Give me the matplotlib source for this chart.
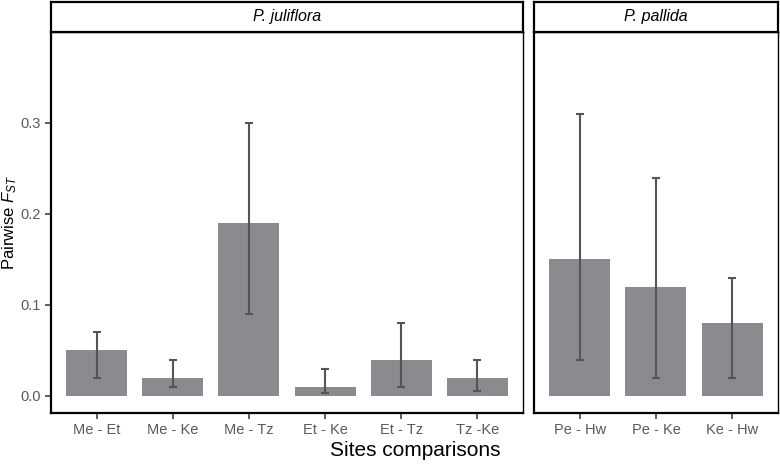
import numpy as np
import matplotlib
matplotlib.use("Agg")
import matplotlib.pyplot as plt

plt.rcParams['font.family'] = ['Liberation Sans', 'DejaVu Sans']
plt.rcParams['mathtext.fontset'] = 'custom'
plt.rcParams['mathtext.rm'] = 'Liberation Sans'
plt.rcParams['mathtext.it'] = 'Liberation Sans:italic'

# P. juliflora
jul_labels = ['Me - Et', 'Me - Ke', 'Me - Tz', 'Et - Ke', 'Et - Tz', 'Tz -Ke']
jul_fst = [0.05, 0.02, 0.19, 0.01, 0.04, 0.02]
jul_low = [0.02, 0.01, 0.09, 0.003, 0.01, 0.005]
jul_high = [0.07, 0.04, 0.30, 0.03, 0.08, 0.04]

# P. pallida
pal_labels = ['Pe - Hw', 'Pe - Ke', 'Ke - Hw']
pal_fst = [0.15, 0.12, 0.08]
pal_low = [0.04, 0.02, 0.02]
pal_high = [0.31, 0.24, 0.13]

bar_col = '#8a8b8f'
err_col = '#555555'
tick_col = '#5a5a5a'

fig = plt.figure(figsize=(7.8, 4.65), dpi=100)
bottom, top = 0.1118, 0.9312
strip_top = 0.9957
panels = [
    (0.0654, 0.6705, 'P. juliflora', jul_labels, jul_fst, jul_low, jul_high),
    (0.6846, 0.9974, 'P. pallida', pal_labels, pal_fst, pal_low, pal_high),
]

for i, (x0, x1, title, labels, vals, low, high) in enumerate(panels):
    ax = fig.add_axes([x0, bottom, x1 - x0, top - bottom])
    x = np.arange(len(labels))
    vals = np.array(vals)
    yerr = [vals - np.array(low), np.array(high) - vals]
    ax.bar(x, vals, width=0.8, color=bar_col, zorder=1)
    ax.errorbar(x, vals, yerr=yerr, fmt='none', ecolor=err_col,
                elinewidth=1.5, capsize=3, capthick=1.5, zorder=2)
    ax.set_xlim(-0.6, len(labels) - 0.4)
    ax.set_ylim(-0.0187, 0.4)
    ax.set_xticks(x)
    ax.set_xticklabels(labels)
    ax.tick_params(axis='both', length=4, width=1.1, colors='#333333',
                   labelcolor=tick_col, labelsize=10.5)
    for side in ['left', 'bottom']:
        ax.spines[side].set_linewidth(1.6)
    for side in ['right', 'top']:
        ax.spines[side].set_linewidth(1.0)
    if i == 0:
        ax.set_yticks([0.0, 0.1, 0.2, 0.3])
        ax.set_yticklabels(['0.0', '0.1', '0.2', '0.3'])
        ax.set_ylabel('Pairwise $\\mathit{F}_{\\mathit{ST}}$', fontsize=12,
                      labelpad=1)
    else:
        ax.set_yticks([])

    sax = fig.add_axes([x0, top, x1 - x0, strip_top - top])
    sax.set_xticks([])
    sax.set_yticks([])
    for side in sax.spines.values():
        side.set_linewidth(1.6)
    sax.text(0.5, 0.5, title, ha='center', va='center', fontsize=11.5,
             style='italic', transform=sax.transAxes)

fig.text(0.532, 0.032, 'Sites comparisons', ha='center', va='center', fontsize=15)

fig.savefig('out.png', dpi=100)
